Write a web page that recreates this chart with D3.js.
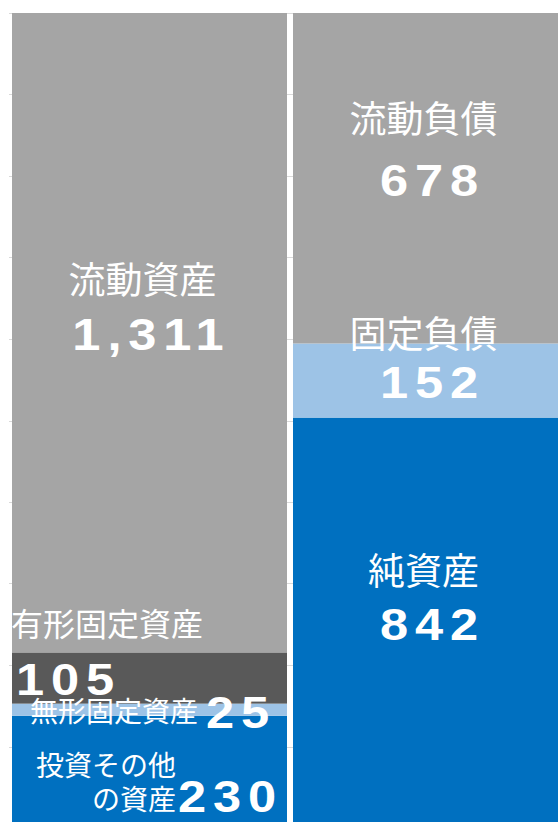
<!DOCTYPE html>
<html>
<head>
<meta charset="utf-8">
<script src="https://cdn.jsdelivr.net/npm/d3@7"></script>
<style>
  body { margin: 0; background: #fff; }
  svg { display: block; }
</style>
</head>
<body>
<script>
// Balance sheet (bottom-up order inside each bar)
const bars = ["資産", "負債・純資産"];
const assetNames = ["投資その他の資産", "無形固定資産", "有形固定資産", "流動資産"];
const assetValues = [230, 25, 105, 1311];
const assetColors = ["#0070C0", "#9DC3E6", "#595959", "#A5A5A5"];
const liabNames = ["純資産", "固定負債", "流動負債"];
const liabValues = [842, 152, 678];
const liabColors = ["#0070C0", "#9DC3E6", "#A5A5A5"];
const gridTicks = d3.range(0, 1.01, 0.1);

const width = 558;
const height = 822;

var svg = d3.select("body").append("svg")
    .attr("width", width)
    .attr("height", height);

var xscale = d3.scaleBand()
    .domain(bars)
    .range([9, 571])
    .paddingInner(6 / 281)
    .paddingOuter(3 / 281);

var yscale = d3.scaleLinear()
    .domain([0, 1])
    .range([828, 13]);

// gridlines
svg.append("g")
    .selectAll("line")
    .data(gridTicks)
    .enter()
    .append("line")
    .attr("x1", 9)
    .attr("x2", 571)
    .attr("y1", d => Math.round(yscale(d)) + 0.5)
    .attr("y2", d => Math.round(yscale(d)) + 0.5)
    .attr("stroke", "#D9D9D9")
    .attr("stroke-width", 1);

// build segments as shares of each bar
function segments(bar, names, values, colors) {
    const total = d3.sum(values);
    const ends = d3.cumsum(values);
    return names.map((n, i) => ({
        bar: bar, name: n, value: values[i], color: colors[i],
        y0: (ends[i] - values[i]) / total, y1: ends[i] / total
    }));
}
const segs = segments(bars[0], assetNames, assetValues, assetColors)
    .concat(segments(bars[1], liabNames, liabValues, liabColors));

svg.append("g")
    .selectAll("rect")
    .data(segs)
    .enter()
    .append("rect")
    .attr("x", d => xscale(d.bar))
    .attr("width", xscale.bandwidth())
    .attr("y", d => yscale(d.y1))
    .attr("height", d => yscale(d.y0) - yscale(d.y1))
    .attr("fill", d => d.color);

const nameFont = "'Noto Sans CJK JP', 'Noto Sans', sans-serif";
const valueFont = "'Liberation Sans', Arial, sans-serif";
const fmt = d3.format(",");

// gap between value baseline and name baseline for the big labels
const nameGap = { "流動資産": 56, "流動負債": 63, "固定負債": 50, "純資産": 55 };

// hand placed labels for the thin segments (offsets from bar left / segment top or bottom)
const special = {
    "有形固定資産": { size: 32, lines: [{ t: "有形固定資産", dx: -1, ref: "top", dy: -16, anchor: "start" }],
        val: { dx: 4, ref: "bottom", dy: -9, anchor: "start" } },
    "無形固定資産": { size: 28, lines: [{ t: "無形固定資産", dx: 18, ref: "bottom", dy: 6, anchor: "start" }],
        val: { dx: 194, ref: "bottom", dy: 12, anchor: "start" } },
    "投資その他の資産": { size: 28, lines: [
            { t: "投資その他", dx: 164, ref: "top", dy: 60, anchor: "end" },
            { t: "の資産", dx: 164, ref: "top", dy: 94, anchor: "end" }],
        val: { dx: 166, ref: "top", dy: 96, anchor: "start" } }
};

var labels = svg.append("g").attr("fill", "#fff");

// value numbers: wide bold digits, stretched horizontally
function valueText(x, y, anchor, v) {
    labels.append("text")
        .attr("transform", `translate(${x},${y}) scale(1.15,1)`)
        .attr("text-anchor", anchor)
        .style("font-family", valueFont)
        .style("font-weight", "bold")
        .style("font-size", "44px")
        .style("letter-spacing", "6px")
        .text(fmt(v));
}

segs.forEach(d => {
    const left = xscale(d.bar);
    const cx = left + xscale.bandwidth() / 2;
    const top = yscale(d.y1), bottom = yscale(d.y0);
    const sp = special[d.name];
    if (sp) {
        const refY = r => (r.ref === "top" ? top : bottom) + r.dy;
        sp.lines.forEach(l => {
            labels.append("text")
                .attr("x", left + l.dx)
                .attr("y", refY(l))
                .attr("text-anchor", l.anchor)
                .style("font-family", nameFont)
                .style("font-size", sp.size + "px")
                .text(l.t);
        });
        valueText(left + sp.val.dx, refY(sp.val), sp.val.anchor, d.value);
    } else {
        const vy = (top + bottom) / 2 + 17.5;
        labels.append("text")
            .attr("x", cx - 7)
            .attr("y", vy - nameGap[d.name])
            .attr("text-anchor", "middle")
            .style("font-family", nameFont)
            .style("font-size", "37px")
            .text(d.name);
        valueText(cx + 2, vy, "middle", d.value);
    }
});
</script>
</body>
</html>
